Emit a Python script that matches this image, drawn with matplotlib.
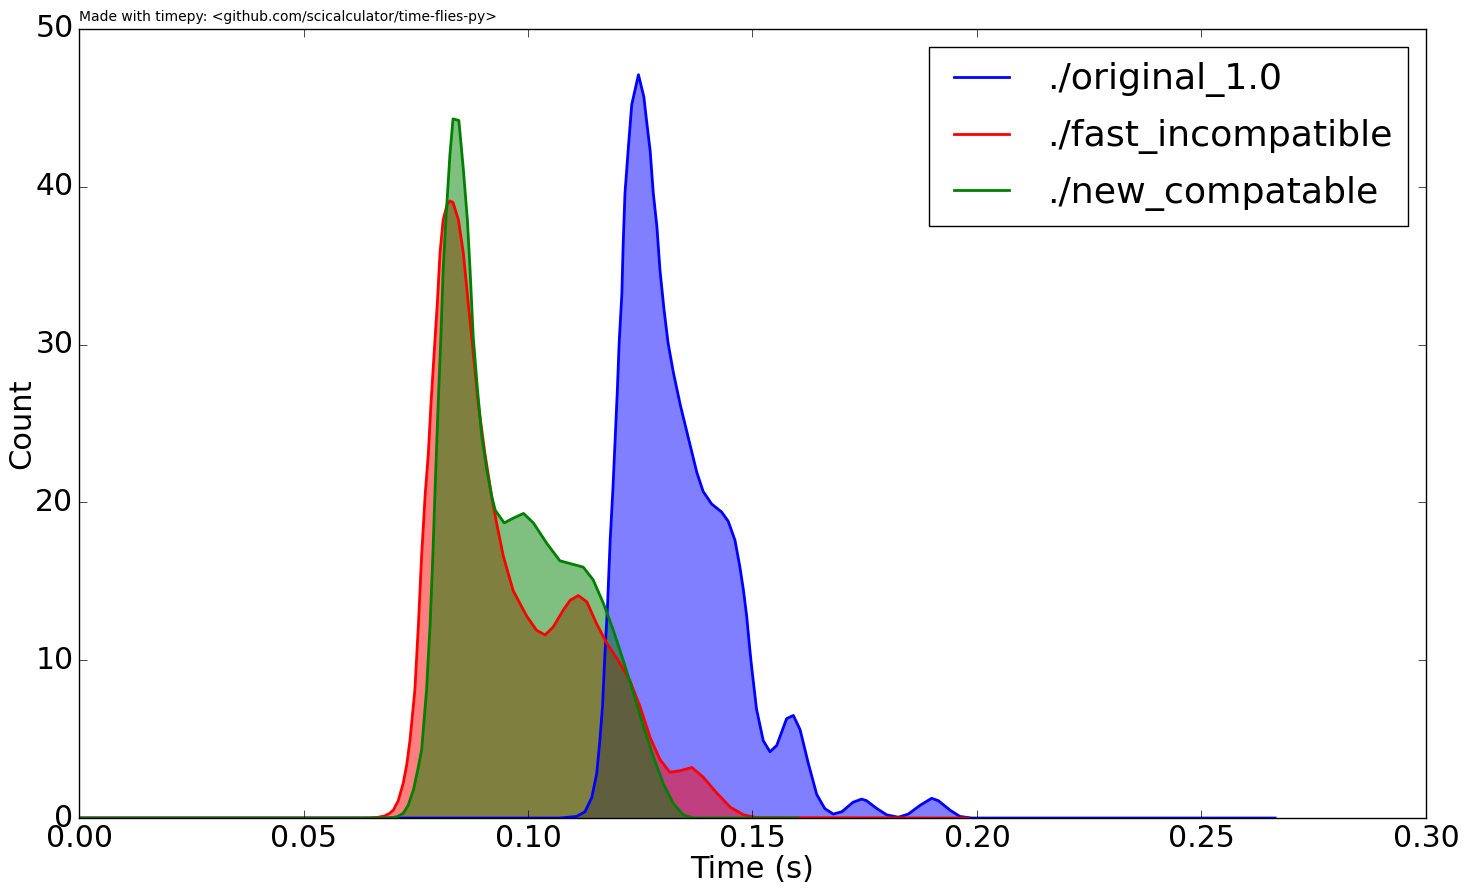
import matplotlib
matplotlib.use("Agg")
import matplotlib.pyplot as plt
from matplotlib.legend_handler import HandlerLine2D

# timing distributions
orig_t = [0.0, 0.1071, 0.1108, 0.1127, 0.1142, 0.1153, 0.1160, 0.1166, 0.1171, 0.1177,
          0.1183, 0.1189, 0.1199, 0.1203, 0.1209, 0.1212, 0.1216, 0.1223, 0.1231, 0.1246,
          0.1258, 0.1264, 0.1272, 0.1279, 0.1287, 0.1294, 0.1303, 0.1312, 0.1324, 0.1339,
          0.1357, 0.1376, 0.1390, 0.1409, 0.1431, 0.1446, 0.1461, 0.1472, 0.1480, 0.1487,
          0.1494, 0.1498, 0.1509, 0.1524, 0.1539, 0.1554, 0.1576, 0.1591, 0.1606, 0.1624,
          0.1643, 0.1661, 0.1680, 0.1699, 0.1724, 0.1743, 0.1754, 0.1777, 0.1799, 0.1825,
          0.1847, 0.1873, 0.1899, 0.1914, 0.1940, 0.1962, 0.1988, 0.2664]
orig_count = [0.0, 0.0, 0.1, 0.4, 1.3, 2.8, 4.9, 7.1, 10.2, 13.4,
              17.6, 20.8, 27.1, 30.1, 33.2, 36.4, 39.6, 42.3, 45.2, 47.1,
              45.7, 44.2, 42.3, 39.6, 37.5, 34.7, 32.2, 30.1, 28.2, 26.2,
              24.1, 21.9, 20.7, 19.9, 19.4, 18.8, 17.6, 15.9, 14.4, 12.8,
              10.7, 9.6, 6.9, 4.9, 4.2, 4.6, 6.3, 6.5, 5.6, 3.5,
              1.5, 0.6, 0.25, 0.4, 1.0, 1.2, 1.1, 0.6, 0.2, 0.05,
              0.25, 0.8, 1.25, 1.1, 0.5, 0.1, 0.0, 0.0]

fast_t = [0.0, 0.0630, 0.0650, 0.0665, 0.0680, 0.0691, 0.0700, 0.0711, 0.0722, 0.0730,
          0.0737, 0.0748, 0.0756, 0.0763, 0.0771,
          0.0778, 0.0784, 0.0791, 0.0798, 0.0804, 0.0811, 0.0820, 0.0826, 0.0833, 0.0845,
          0.0856, 0.0867, 0.0878, 0.0889, 0.0904, 0.0919, 0.0930, 0.0945, 0.0967, 0.0997,
          0.1019, 0.1038, 0.1056, 0.1079, 0.1094, 0.1112, 0.1131, 0.1153, 0.1175, 0.1205,
          0.1227, 0.1249, 0.1272, 0.1294, 0.1316, 0.1339, 0.1365, 0.1390, 0.1420, 0.1450,
          0.1480, 0.1509, 0.1980]
fast_count = [0.0, 0.0, 0.01, 0.04, 0.13, 0.28, 0.5, 1.1, 2.2, 3.4,
              4.9, 8.1, 12.3, 16.6, 20.5,
              23.1, 26.3, 29.5, 32.6, 35.8, 37.9, 38.9, 39.1, 39.0, 37.9,
              35.8, 32.6, 29.5, 26.3, 23.1, 20.4, 18.7, 16.6, 14.4, 12.8,
              11.9, 11.6, 12.1, 13.2, 13.8, 14.1, 13.7, 12.3, 11.1, 9.8,
              8.7, 7.1, 5.1, 3.7, 2.9, 3.0, 3.2, 2.6, 1.6, 0.7,
              0.2, 0.03, 0.0]

new_t = [0.0, 0.0675, 0.0690, 0.0699, 0.0710, 0.0722, 0.0733, 0.0745, 0.0754, 0.0763,
         0.0774, 0.0782, 0.0788,
         0.0793, 0.0800, 0.0806, 0.0811, 0.0817, 0.0826, 0.0833, 0.0846, 0.0856, 0.0865,
         0.0871, 0.0878, 0.0887, 0.0897, 0.0908, 0.0919, 0.0927, 0.0947, 0.0967, 0.0990,
         0.1012, 0.1042, 0.1071, 0.1097, 0.1123, 0.1145, 0.1168, 0.1190, 0.1212, 0.1235,
         0.1257, 0.1279, 0.1301, 0.1324, 0.1346, 0.1368, 0.1600]
new_count = [0.0, 0.0, 0.01, 0.03, 0.1, 0.3, 0.8, 1.8, 3.0, 4.3,
             8.1, 12.3, 16.6,
             20.8, 26.3, 30.5, 34.7, 37.9, 42.0, 44.3, 44.2, 41.1, 37.9,
             34.7, 30.5, 27.3, 24.2, 22.1, 20.4, 19.5, 18.7, 19.0, 19.3,
             18.7, 17.4, 16.3, 16.1, 15.9, 15.1, 13.6, 11.9, 10.0, 7.9,
             5.8, 3.9, 2.2, 0.9, 0.2, 0.0, 0.0]

names = ["./original_1.0", "./fast_incompatible", "./new_compatable"]
colors = ["b", "r", "g"]


def main():
    plt.style.use("classic")
    fig = plt.figure(figsize=(14.69, 8.91), dpi=100, facecolor="white")
    ax = fig.add_axes([0.0538, 0.0819, 0.9169, 0.8856])

    series = [(orig_t, orig_count), (fast_t, fast_count), (new_t, new_count)]
    for (t, c), name, col in zip(series, names, colors):
        ax.fill_between(t, c, 0, color=col, alpha=0.5, linewidth=0, zorder=1)
        ax.plot(t, c, color=col, linewidth=2, label=name, zorder=2)

    ax.set_xlim(0, 0.30)
    ax.set_ylim(0, 50)
    ax.set_xticks([0.0, 0.05, 0.10, 0.15, 0.20, 0.25, 0.30])
    ax.set_xticklabels(["0.00", "0.05", "0.10", "0.15", "0.20", "0.25", "0.30"])
    ax.set_yticks([0, 10, 20, 30, 40, 50])
    ax.tick_params(labelsize=21.5, direction="in", length=6, top=True, right=True)
    ax.set_xlabel("Time (s)", fontsize=22, labelpad=2)
    ax.set_ylabel("Count", fontsize=22)
    ax.yaxis.set_label_coords(-0.032, 0.5)
    ax.set_title("Made with timepy: <github.com/scicalculator/time-flies-py>",
                 loc="left", fontsize=10, pad=5.5)

    leg = ax.legend(loc="upper right", fontsize=26.2, handlelength=1.79,
                    handletextpad=1.04, labelspacing=0.6, borderpad=0.42,
                    borderaxespad=0.5, fancybox=False, numpoints=1,
                    handler_map={matplotlib.lines.Line2D: HandlerLine2D(xpad=0.27)})
    leg.get_frame().set_edgecolor("black")
    leg.get_frame().set_linewidth(1)

    fig.savefig("out.png", dpi=100, facecolor="white")


if __name__ == "__main__":
    main()
